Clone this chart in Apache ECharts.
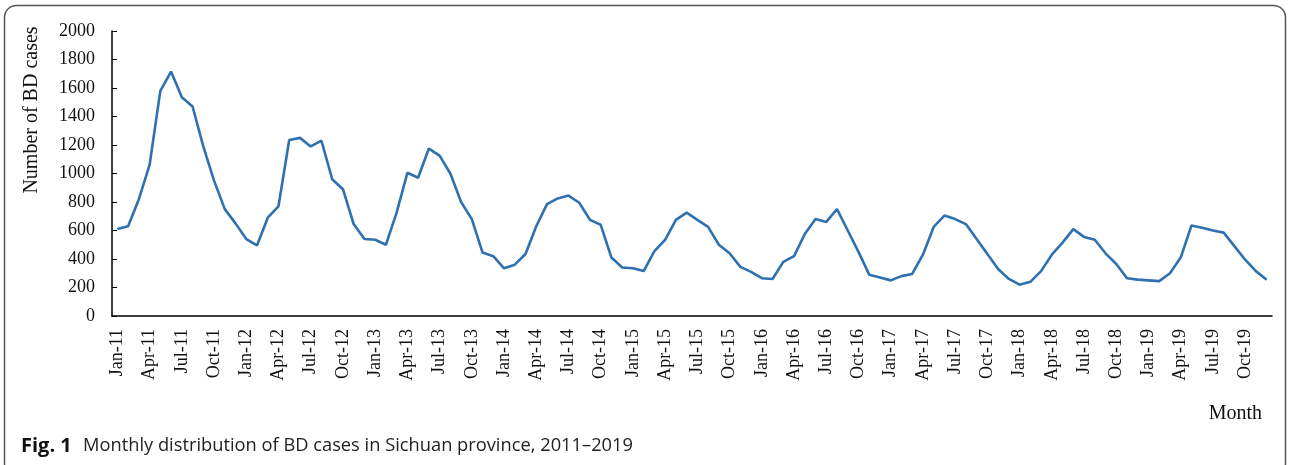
<!DOCTYPE html>
<html>
<head>
<meta charset="utf-8">
<script src="https://cdn.jsdelivr.net/npm/echarts@6/dist/echarts.min.js"></script>
<style>
html, body { margin: 0; padding: 0; background: #fff; }
#chart { width: 1290px; height: 465px; }
</style>
</head>
<body>
<div id="chart"></div>
<script>
var years = ['11', '12', '13', '14', '15', '16', '17', '18', '19'];
var monthNames = ['Jan', 'Feb', 'Mar', 'Apr', 'May', 'Jun', 'Jul', 'Aug', 'Sep', 'Oct', 'Nov', 'Dec'];

// monthly BD cases, one row per year
var cases2011 = [610, 630, 820, 1060, 1580, 1715, 1535, 1470, 1190, 950, 750, 650];
var cases2012 = [540, 495, 690, 770, 1235, 1250, 1190, 1230, 960, 890, 645, 540];
var cases2013 = [535, 500, 725, 1005, 970, 1175, 1125, 1000, 800, 680, 445, 420];
var cases2014 = [335, 360, 435, 630, 785, 825, 845, 795, 675, 640, 410, 340];
var cases2015 = [335, 315, 455, 535, 675, 725, 675, 625, 500, 440, 345, 310];
var cases2016 = [265, 260, 380, 420, 575, 680, 660, 750, 600, 450, 290, 270];
var cases2017 = [250, 280, 295, 430, 625, 705, 680, 645, 540, 435, 330, 260];
var cases2018 = [220, 240, 315, 430, 515, 610, 555, 535, 440, 365, 265, 255];
var cases2019 = [250, 245, 300, 410, 635, 620, 600, 585, 490, 395, 315, 255];

var yTicks = [0, 200, 400, 600, 800, 1000, 1200, 1400, 1600, 1800, 2000];

var categories = [];
years.forEach(function(y) {
	monthNames.forEach(function(m) {
		categories.push(m + '-' + y);
	});
});
var values = [].concat(cases2011, cases2012, cases2013, cases2014, cases2015,
	cases2016, cases2017, cases2018, cases2019);

var serif = '"Liberation Serif", "Times New Roman", serif';
var sans = '"Open Sans", "Noto Sans", sans-serif';

var chart = echarts.init(document.getElementById('chart'));
var option = {
	animation : false,
	backgroundColor : '#fff',
	grid : {
		left : 112,
		right : 18,
		top : 31,
		bottom : 149
	},
	xAxis : {
		type : 'category',
		boundaryGap : true,
		data : categories,
		axisLine : {
			lineStyle : { color : '#000', width : 1.5 }
		},
		axisTick : {
			inside : true,
			length : 5,
			interval : 0,
			lineStyle : { color : '#000', width : 1 }
		},
		axisLabel : {
			interval : 2,
			rotate : 90,
			margin : 13,
			color : '#111',
			fontFamily : serif,
			fontSize : 18
		}
	},
	yAxis : {
		type : 'value',
		min : yTicks[0],
		max : yTicks[yTicks.length - 1],
		interval : yTicks[1] - yTicks[0],
		splitLine : { show : false },
		axisLine : {
			show : true,
			lineStyle : { color : '#000', width : 1.5 }
		},
		axisTick : {
			show : true,
			inside : true,
			length : 5,
			lineStyle : { color : '#000', width : 1 }
		},
		axisLabel : {
			margin : 17,
			color : '#111',
			fontFamily : serif,
			fontSize : 18,
			formatter : function(v) {
				return String(v);
			}
		}
	},
	series : [ {
		type : 'line',
		data : values,
		symbol : 'none',
		lineStyle : { color : '#2E70B0', width : 2.6 }
	} ],
	graphic : [ {
		type : 'rect',
		shape : { x : 4.5, y : 5.5, width : 1281, height : 470, r : 12 },
		style : { fill : 'none', stroke : '#555', lineWidth : 1.5 }
	}, {
		type : 'text',
		x : 32,
		y : 110,
		rotation : Math.PI / 2,
		style : {
			text : 'Number of BD cases',
			font : '20px ' + serif,
			fill : '#111',
			align : 'center',
			verticalAlign : 'middle'
		}
	}, {
		type : 'text',
		x : 1262,
		y : 414,
		style : {
			text : 'Month',
			font : '20px ' + serif,
			fill : '#111',
			align : 'right',
			verticalAlign : 'middle'
		}
	}, {
		type : 'text',
		x : 21,
		y : 446,
		style : {
			text : 'Fig. 1',
			font : 'bold 20px ' + sans,
			fill : '#111',
			verticalAlign : 'middle'
		}
	}, {
		type : 'text',
		x : 83,
		y : 446,
		style : {
			text : 'Monthly distribution of BD cases in Sichuan province, 2011\u20132019',
			font : '18.3px ' + sans,
			fill : '#222',
			verticalAlign : 'middle'
		}
	} ]
};
chart.setOption(option);
</script>
</body>
</html>
